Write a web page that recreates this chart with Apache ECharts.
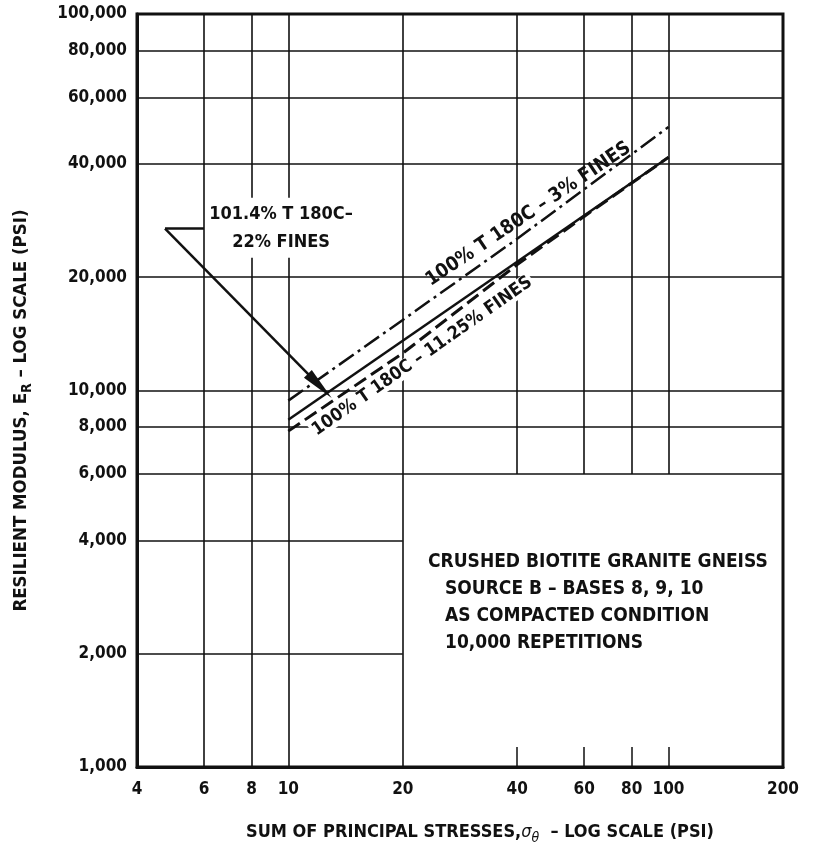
<!DOCTYPE html>
<html><head><meta charset="utf-8">
<script src="https://cdn.jsdelivr.net/npm/echarts@6/dist/echarts.min.js"></script>
<style>html,body{margin:0;padding:0;background:#fff}#c{width:822px;height:850px}</style>
</head><body><div id="c"></div>
<script>
// ---- axis ticks ----
const xTicks = [4, 6, 8, 10, 20, 40, 60, 80, 100, 200];
const yTicks = [1000, 2000, 4000, 6000, 8000, 10000, 20000, 40000, 60000, 80000, 100000];
const xBottomTicks = [40, 60, 80, 100];
// ---- partial grid lines ----
const vFull = [6, 8, 10, 20];          // full height
const vUpper = [40, 60, 80, 100];      // from 6,000 up
const vUpperFrom = 6000;
const hFull = [6000, 8000, 10000, 20000, 40000, 60000, 80000]; // full width
const hLeft = [2000, 4000];            // from 4 to 20
const hLeftTo = 20;
// ---- series ----
const fines3X = [10, 20, 40, 100];
const fines3Y = [9400, 15400, 25300, 50100];
const fines22X = [10, 100];
const fines22Y = [8360, 41650];
const fines1125X = [10, 20, 40, 60, 100];
const fines1125Y = [7800, 12560, 21600, 29000, 41650];
// ---- annotation anchors (data coords) ----
const annLeader = [[6, 26900], [4.74, 26900]];
const annArrow = [[4.74, 26900], [12.1, 10280]];
const annText = [9.57, 27040];
const label3 = [42.8, 29400];
const label1125 = [22.5, 12330];
const boxText = [23.3, 3802];

const FONT = "'DejaVu Sans Condensed','Liberation Sans Narrow','DejaVu Sans',sans-serif";
const INK = '#111';
const XMIN = 4, XMAX = 200, YMIN = 1000, YMAX = 100000;

const gridSegs = [];
vFull.forEach(v => gridSegs.push([{coord: [v, YMIN]}, {coord: [v, YMAX]}]));
vUpper.forEach(v => gridSegs.push([{coord: [v, vUpperFrom]}, {coord: [v, YMAX]}]));
hFull.forEach(v => gridSegs.push([{coord: [XMIN, v]}, {coord: [XMAX, v]}]));
hLeft.forEach(v => gridSegs.push([{coord: [XMIN, v]}, {coord: [hLeftTo, v]}]));

const zip = (xs, ys) => xs.map((x, i) => [x, ys[i]]);
const txt = {fontFamily: FONT, fontWeight: 'bold', fontSize: 17, color: INK};
const txtL = Object.assign({}, txt, {fontSize: 18});
const txtT = Object.assign({}, txt, {fontSize: 19.5});
const txtB = Object.assign({}, txt, {fontSize: 19});

const chart = echarts.init(document.getElementById('c'), null, {renderer: 'canvas'});
chart.setOption({
  animation: false,
  backgroundColor: '#fff',
  grid: {left: 137, right: 39, top: 14, bottom: 79, show: true, borderColor: INK, borderWidth: 3, backgroundColor: 'transparent'},
  xAxis: {
    type: 'log', logBase: 10, min: XMIN, max: XMAX,
    axisLine: {show: true, lineStyle: {color: INK, width: 3}},
    axisTick: {show: true, inside: true, length: 20, customValues: xBottomTicks, lineStyle: {color: INK, width: 1.5}},
    minorTick: {show: false},
    splitLine: {show: false},
    axisLabel: Object.assign({customValues: xTicks, margin: 14, formatter: v => String(Math.round(v))}, txt),
    name: '{t|SUM OF PRINCIPAL STRESSES,}{g|σ}{s|θ}{t|  – LOG SCALE (PSI)}',
    nameLocation: 'middle', nameGap: 52,
    nameTextStyle: {padding: [0, 0, 0, 40], rich: {
      t: txtL,
      g: {fontFamily: FONT, fontSize: 18, fontStyle: 'italic', color: INK},
      s: {fontFamily: FONT, fontSize: 14, fontStyle: 'italic', color: INK, padding: [12, 0, 0, 0]}
    }}
  },
  yAxis: {
    type: 'log', logBase: 10, min: YMIN, max: YMAX,
    axisLine: {show: true, lineStyle: {color: INK, width: 3}},
    axisTick: {show: false},
    minorTick: {show: false},
    splitLine: {show: false},
    axisLabel: Object.assign({customValues: yTicks, margin: 10, formatter: v => Math.round(v).toLocaleString('en-US')}, txt),
    name: '{t|RESILIENT MODULUS, E}{s|R}{t| – LOG SCALE (PSI)}',
    nameLocation: 'middle', nameGap: 103,
    nameTextStyle: {padding: [0, 40, 0, 0], rich: {
      t: Object.assign({}, txt, {fontSize: 18.5}),
      s: {fontFamily: FONT, fontWeight: 'bold', fontSize: 14, color: INK, padding: [12, 0, 0, 0]}
    }}
  },
  series: [
    {
      type: 'line', data: [], z: 1, silent: true,
      markLine: {silent: true, symbol: ['none', 'none'], label: {show: false},
        lineStyle: {color: INK, width: 1.6, type: 'solid'}, emphasis: {disabled: true}, data: gridSegs}
    },
    {
      name: '100% T 180C – 3% FINES', type: 'line', z: 3, symbol: 'none',
      data: zip(fines3X, fines3Y),
      lineStyle: {color: INK, width: 2.5, type: [18, 5, 3, 5]}
    },
    {
      name: '101.4% T 180C – 22% FINES', type: 'line', z: 3, symbol: 'none',
      data: zip(fines22X, fines22Y),
      lineStyle: {color: INK, width: 2.5, type: 'solid'}
    },
    {
      name: '100% T 180C – 11.25% FINES', type: 'line', z: 3, symbol: 'none',
      data: zip(fines1125X, fines1125Y),
      lineStyle: {color: INK, width: 3, type: [14, 6]}
    },
    {
      type: 'line', data: [], z: 4, silent: true,
      markLine: {silent: true, label: {show: false}, emphasis: {disabled: true},
        lineStyle: {color: INK, width: 2.5, type: 'solid'},
        symbol: ['none', 'none'],
        data: [
          [{coord: annLeader[0], symbol: 'none'}, {coord: annLeader[1], symbol: 'none'}],
          [{coord: annArrow[0], symbol: 'none'}, {coord: annArrow[1], symbol: 'triangle', symbolSize: [11, 34]}]
        ]}
    },
    {
      type: 'scatter', z: 6, silent: true, symbolSize: 0,
      itemStyle: {color: INK, opacity: 1},
      emphasis: {disabled: true},
      data: [
        {value: annText, label: Object.assign({show: true, position: 'inside', align: 'center', verticalAlign: 'middle',
          formatter: '101.4% T 180C–\n22% FINES', lineHeight: 28, backgroundColor: '#fff', padding: [2, 3], opacity: 1, textBorderWidth: 0}, txtL)},
        {value: label3, label: Object.assign({show: true, position: 'inside', rotate: 34, align: 'center', verticalAlign: 'middle',
          formatter: '100% T 180C – 3% FINES', opacity: 1, textBorderWidth: 0}, txtT)},
        {value: label1125, label: Object.assign({show: true, position: 'inside', rotate: 35, align: 'center', verticalAlign: 'middle',
          formatter: '100% T 180C – 11.25% FINES', backgroundColor: '#fff', padding: [0, 2], opacity: 1, textBorderWidth: 0}, txtL)},
        {value: boxText, label: {show: true, position: [0, 0], align: 'left', verticalAlign: 'top', opacity: 1,
          formatter: '{a|CRUSHED BIOTITE GRANITE GNEISS}\n{b|SOURCE B – BASES 8, 9, 10}\n{b|AS COMPACTED CONDITION}\n{b|10,000 REPETITIONS}',
          rich: {
            a: Object.assign({lineHeight: 27}, txtB),
            b: Object.assign({lineHeight: 27, padding: [0, 0, 0, 17]}, txtB)
          }}}
      ]
    }
  ]
});
</script></body></html>
